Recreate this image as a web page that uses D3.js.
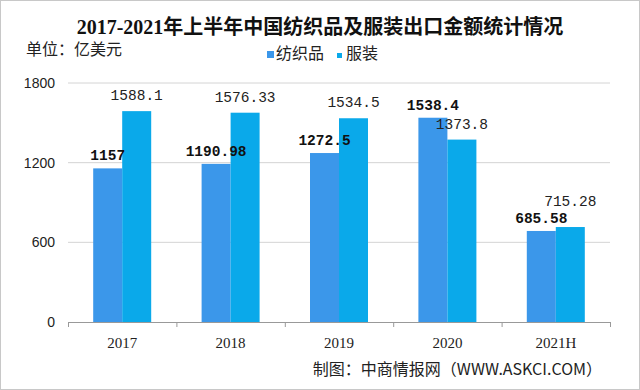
<!DOCTYPE html>
<html>
<head>
<meta charset="UTF-8" />
<script src="https://d3js.org/d3.v7.min.js"></script>
<style>
  body { margin: 0; background: #fff; }
</style>
</head>
<body>
<div id="chart"></div>
<script>
// valeurs (亿美元)
const years = ["2017", "2018", "2019", "2020", "2021H"];
const textile = [1157, 1190.98, 1272.5, 1538.4, 685.58];
const clothing = [1588.1, 1576.33, 1534.5, 1373.8, 715.28];
const textileLabels = ["1157", "1190.98", "1272.5", "1538.4", "685.58"];
const clothingLabels = ["1588.1", "1576.33", "1534.5", "1373.8", "715.28"];
const yTicks = [0, 600, 1200, 1800];
const seriesNames = ["纺织品", "服装"];

const width = 640, height = 390;
const margin = { top: 83, right: 30, bottom: 68, left: 68 };
const colTextile = "#3b97ea", colClothing = "#0aa9ea";

const svg = d3.select("#chart").append("svg")
  .attr("width", width).attr("height", height);

svg.append("rect").attr("x", 0.5).attr("y", 0.5)
  .attr("width", width - 1).attr("height", height - 1)
  .attr("fill", "#fff").attr("stroke", "#c8c8c8");

svg.append("text").attr("x", 320).attr("y", 34)
  .attr("text-anchor", "middle")
  .style("font-family", "'Liberation Serif', 'Noto Sans CJK SC'").style("font-weight", "bold")
  .style("font-size", "20px").attr("fill", "#111")
  .text("2017-2021年上半年中国纺织品及服装出口金额统计情况");

svg.append("text").attr("x", 26).attr("y", 55)
  .style("font-family", "'Noto Sans CJK SC'").style("font-size", "16px")
  .attr("fill", "#222").text("单位：亿美元");

// légende
const leg = svg.append("g").style("font-family", "'Noto Sans CJK SC'").style("font-size", "16px");
leg.append("rect").attr("x", 267).attr("y", 51).attr("width", 7).attr("height", 7).attr("fill", colTextile);
leg.append("text").attr("x", 276).attr("y", 59).attr("fill", "#222").text(seriesNames[0]);
leg.append("rect").attr("x", 337).attr("y", 53).attr("width", 5).attr("height", 5).attr("fill", colClothing);
leg.append("text").attr("x", 346).attr("y", 59).attr("fill", "#222").text(seriesNames[1]);

const x = d3.scaleBand().domain(years).range([margin.left, width - margin.right]);
const y = d3.scaleLinear().domain([0, 1800]).range([height - margin.bottom, margin.top]);
const barW = 29;

// grille
svg.append("g").selectAll("line").data(yTicks.slice(1)).join("line")
  .attr("x1", margin.left).attr("x2", width - margin.right)
  .attr("y1", d => y(d)).attr("y2", d => y(d))
  .attr("stroke", "#d4d4d4");

svg.append("g").selectAll("text").data(yTicks).join("text")
  .attr("x", 55).attr("y", d => y(d) + 5)
  .attr("text-anchor", "end")
  .style("font-family", "'Liberation Sans'").style("font-size", "14px")
  .attr("fill", "#222").text(d => d);

// barres
const groups = svg.append("g").selectAll("g").data(years).join("g");
groups.append("rect")
  .attr("x", d => x(d) + x.bandwidth() / 2 - barW)
  .attr("y", (d, i) => y(textile[i]))
  .attr("width", barW)
  .attr("height", (d, i) => y(0) - y(textile[i]))
  .attr("fill", colTextile);
groups.append("rect")
  .attr("x", d => x(d) + x.bandwidth() / 2)
  .attr("y", (d, i) => y(clothing[i]))
  .attr("width", barW)
  .attr("height", (d, i) => y(0) - y(clothing[i]))
  .attr("fill", colClothing);

// étiquettes (on remonte celle du vêtement si elle chevauche)
const tY = textile.map(v => y(v) - 8);
const cY = clothing.map((v, i) => {
  let p = y(v) - 11;
  if (Math.abs(p - tY[i]) < 16) p = tY[i] - 17;
  return p;
});
groups.append("text")
  .attr("x", d => x(d) + x.bandwidth() / 2 - barW / 2)
  .attr("y", (d, i) => tY[i])
  .attr("text-anchor", "middle")
  .style("font-family", "'Liberation Mono'").style("font-weight", "bold")
  .style("font-size", "14.5px").attr("fill", "#111")
  .text((d, i) => textileLabels[i]);
groups.append("text")
  .attr("x", d => x(d) + x.bandwidth() / 2 + barW / 2)
  .attr("y", (d, i) => cY[i])
  .attr("text-anchor", "middle")
  .style("font-family", "'Liberation Mono'")
  .style("font-size", "14.5px").attr("fill", "#222")
  .text((d, i) => clothingLabels[i]);

// axe x
const xAxis = svg.append("g");
xAxis.append("line").attr("x1", margin.left).attr("x2", width - margin.right)
  .attr("y1", y(0) + 0.5).attr("y2", y(0) + 0.5).attr("stroke", "#999");
const bounds = years.map(d => x(d)).concat([x(years[years.length - 1]) + x.bandwidth()]);
xAxis.selectAll("line.tk").data(bounds).join("line").attr("class", "tk")
  .attr("x1", d => d + 0.5).attr("x2", d => d + 0.5)
  .attr("y1", y(0)).attr("y2", y(0) + 5).attr("stroke", "#999");
xAxis.selectAll("text").data(years).join("text")
  .attr("x", d => x(d) + x.bandwidth() / 2).attr("y", y(0) + 26)
  .attr("text-anchor", "middle")
  .style("font-family", "'Liberation Serif'").style("font-size", "15px")
  .attr("fill", "#222").text(d => d);

svg.append("text").attr("x", 602).attr("y", 375)
  .attr("text-anchor", "end")
  .style("font-family", "'Noto Sans CJK SC'").style("font-size", "16px")
  .attr("fill", "#222").text("制图：中商情报网（WWW.ASKCI.COM）");
</script>
</body>
</html>
